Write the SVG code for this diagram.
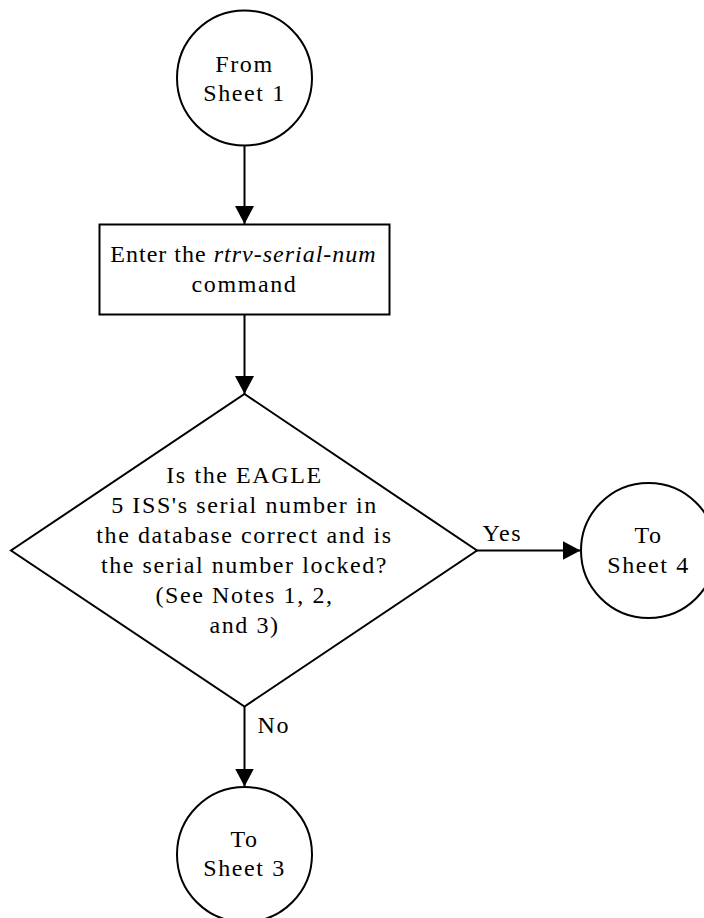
<svg xmlns="http://www.w3.org/2000/svg" width="704" height="918" viewBox="0 0 704 918">
<style>
.shape{fill:#fff;stroke:#000;stroke-width:2}
.conn{fill:none;stroke:#000;stroke-width:2}
text{font-family:"Liberation Serif","Times New Roman",serif;font-size:24px;fill:#000;letter-spacing:1.6px}
.c{text-anchor:middle}
.tight{letter-spacing:1px}
</style>
<defs>
<marker id="arrow" markerUnits="userSpaceOnUse" markerWidth="18" markerHeight="19" refX="18" refY="9.5" orient="auto">
<path d="M0,0 L18,9.5 L0,19 z" fill="#000"/>
</marker>
</defs>
<rect width="704" height="918" fill="#fff"/>
<g id="connectors">
<line class="conn" x1="244.5" y1="145.5" x2="244.5" y2="224" marker-end="url(#arrow)"/>
<line class="conn" x1="244.5" y1="314.5" x2="244.5" y2="394" marker-end="url(#arrow)"/>
<line class="conn" x1="477" y1="550.5" x2="580.5" y2="550.5" marker-end="url(#arrow)"/>
<line class="conn" x1="244.5" y1="706.5" x2="244.5" y2="786.5" marker-end="url(#arrow)"/>
<text x="482.5" y="540.5">Yes</text>
<text x="257.5" y="732.5">No</text>
</g>
<g id="from-sheet-1">
<circle class="shape" cx="244.5" cy="78" r="67.5"/>
<text class="c" x="244.5" y="71.5">From</text>
<text class="c" x="244.5" y="101">Sheet 1</text>
</g>
<g id="enter-command">
<rect class="shape" x="99.5" y="224.5" width="290" height="90"/>
<text class="c tight" x="243.5" y="261.5">Enter the <tspan font-style="italic">rtrv-serial-num</tspan></text>
<text class="c" x="244.5" y="291.5">command</text>
</g>
<g id="decision">
<polygon class="shape" points="244.5,394 477,550.5 244.5,706.5 11,550.5"/>
<text class="c" x="244.5" y="482.5">Is the EAGLE</text>
<text class="c" x="244.5" y="512.5">5 ISS's serial number in</text>
<text class="c" x="244.5" y="542.5">the database correct and is</text>
<text class="c" x="244.5" y="572.5">the serial number locked?</text>
<text class="c" x="244.5" y="602.5">(See Notes 1, 2,</text>
<text class="c" x="244.5" y="632.5">and 3)</text>
</g>
<g id="to-sheet-4">
<circle class="shape" cx="648.5" cy="550.5" r="67.5"/>
<text class="c" x="648.5" y="542.5">To</text>
<text class="c" x="648.5" y="572.5">Sheet 4</text>
</g>
<g id="to-sheet-3">
<circle class="shape" cx="244.5" cy="854.5" r="67.5"/>
<text class="c" x="244.5" y="846.5">To</text>
<text class="c" x="244.5" y="876">Sheet 3</text>
</g>
</svg>
